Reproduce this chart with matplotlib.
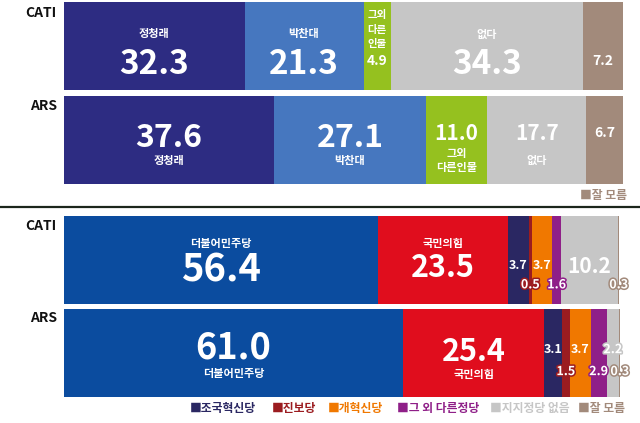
import matplotlib.pyplot as plt
import matplotlib.patheffects as pe
import numpy as np

plt.rcParams['font.family'] = ['Noto Sans CJK KR', 'DejaVu Sans']

rows = ["CATI", "ARS"]

# top chart: candidates
cand_names = ["정청래", "박찬대", "그외 다른인물", "없다", "잘 모름"]
cand_cati = [32.3, 21.3, 4.9, 34.3, 7.2]
cand_ars = [37.6, 27.1, 11.0, 17.7, 6.7]
cand_colors = ["#2d2c82", "#4677bf", "#95c11f", "#c6c6c6", "#a28a7b"]

# bottom chart: parties
party_names = ["더불어민주당", "국민의힘", "조국혁신당", "진보당", "개혁신당",
               "그 외 다른정당", "지지정당 없음", "잘 모름"]
party_cati = [56.4, 23.5, 3.7, 0.5, 3.7, 1.6, 10.2, 0.3]
party_ars = [61.0, 25.4, 3.1, 1.5, 3.7, 2.9, 2.2, 0.3]
party_colors = ["#0b4c9f", "#e00d1d", "#2a2762", "#9b1c20", "#f07800",
                "#8f1f88", "#c6c6c6", "#a28a7b"]

W, H = 640, 423
fig = plt.figure(figsize=(W / 100, H / 100), dpi=100)


def make_ax(top_px, bottom_px, left_px=64, right_px=622):
    ax = fig.add_axes([left_px / W, 1 - bottom_px / H,
                       (right_px - left_px) / W, (bottom_px - top_px) / H])
    ax.set_xlim(0, 100)
    ax.axis('off')
    return ax


def draw_bars(ax, values_by_row, colors, pitch_px, bar_px):
    h = bar_px / pitch_px
    ax.set_ylim(1 + h / 2, -h / 2)
    lefts = []
    for r, vals in enumerate(values_by_row):
        left = np.concatenate([[0], np.cumsum(vals)[:-1]])
        ax.barh(r, vals, left=left, height=h, color=colors, edgecolor='none')
        lefts.append(left)
    return lefts


def label(ax, x, r, s, dy, size, weight='bold', color='white', stroke=None):
    # dy: pixels below bar centre (positive = down), baseline aligned
    t = ax.annotate(s, (x, r), xytext=(0, -dy * 0.72), textcoords='offset points',
                    ha='center', va='baseline', fontsize=size,
                    fontweight=weight, color=color, annotation_clip=False)
    if stroke:
        t.set_path_effects([pe.withStroke(linewidth=2.2, foreground=stroke)])
    return t


# ---------- top chart ----------
ax1 = make_ax(2, 184, right_px=623)
lefts = draw_bars(ax1, [cand_cati, cand_ars], cand_colors, 94, 88)
c_cati = lefts[0] + np.array(cand_cati) / 2
c_ars = lefts[1] + np.array(cand_ars) / 2

# CATI row (centre y=46)
label(ax1, c_cati[0], 0, cand_names[0], -9, 8)
label(ax1, c_cati[0], 0, f"{cand_cati[0]:.1f}", 28, 24)
label(ax1, c_cati[1], 0, cand_names[1], -9, 8)
label(ax1, c_cati[1], 0, f"{cand_cati[1]:.1f}", 28, 24)
for i, s in enumerate(["그외", "다른", "인물"]):
    label(ax1, c_cati[2], 0, s, -28 + i * 14.5, 7.5)
label(ax1, c_cati[2], 0, f"{cand_cati[2]:.1f}", 19, 10)
label(ax1, c_cati[3], 0, cand_names[3], -8, 8)
label(ax1, c_cati[3], 0, f"{cand_cati[3]:.1f}", 28, 24)
label(ax1, c_cati[4], 0, f"{cand_cati[4]:.1f}", 19, 10)

# ARS row (centre y=140)
label(ax1, c_ars[0], 1, f"{cand_ars[0]:.1f}", 7, 23)
label(ax1, c_ars[0], 1, cand_names[0], 24, 8)
label(ax1, c_ars[1], 1, f"{cand_ars[1]:.1f}", 7, 23)
label(ax1, c_ars[1], 1, cand_names[1], 24, 8)
label(ax1, c_ars[2], 1, f"{cand_ars[2]:.1f}", 0, 15)
label(ax1, c_ars[2], 1, "그외", 17, 8)
label(ax1, c_ars[2], 1, "다른인물", 31, 8)
label(ax1, c_ars[3], 1, f"{cand_ars[3]:.1f}", 0, 15)
label(ax1, c_ars[3], 1, cand_names[3], 24, 8)
label(ax1, c_ars[4], 1, f"{cand_ars[4]:.1f}", -3, 10)

fig.text(580 / W, 1 - 195 / H, "■" + cand_names[4], color=cand_colors[4],
         fontsize=8.5, fontweight='bold', ha='left', va='center')

# ---------- separator ----------
fig.add_artist(plt.Line2D([0, 1], [1 - 207 / H, 1 - 207 / H],
                          color="#1c261c", lw=1.6))

# ---------- bottom chart ----------
ax2 = make_ax(216, 397, right_px=620)
lefts = draw_bars(ax2, [party_cati, party_ars], party_colors, 93, 87.5)
p_cati = lefts[0] + np.array(party_cati) / 2
p_ars = lefts[1] + np.array(party_ars) / 2

# CATI row (centre y=259.5)
label(ax2, p_cati[0], 0, party_names[0], -12.5, 8)
label(ax2, p_cati[0], 0, f"{party_cati[0]:.1f}", 22, 27.5)
label(ax2, p_cati[1], 0, party_names[1], -12.5, 8)
label(ax2, p_cati[1], 0, f"{party_cati[1]:.1f}", 17, 22)
small_dy_cati = {2: 9.5, 3: 28.5, 4: 9.5, 5: 28.5, 7: 28.5}
for i, dy in small_dy_cati.items():
    stroke = party_colors[i] if i in (3, 5, 7) else None
    label(ax2, p_cati[i], 0, f"{party_cati[i]:.1f}", dy, 9, stroke=stroke)
label(ax2, p_cati[6], 0, f"{party_cati[6]:.1f}", 13.5, 15)

# ARS row (centre y=353)
label(ax2, p_ars[0], 1, f"{party_ars[0]:.1f}", 5, 26)
label(ax2, p_ars[0], 1, party_names[0], 24, 8)
label(ax2, p_ars[1], 1, f"{party_ars[1]:.1f}", 8, 22)
label(ax2, p_ars[1], 1, party_names[1], 25, 8)
small_dy_ars = {2: 0, 3: 22, 4: 0, 5: 22, 6: 0, 7: 22}
for i, dy in small_dy_ars.items():
    stroke = party_colors[i] if i in (3, 5, 6, 7) else None
    label(ax2, p_ars[i], 1, f"{party_ars[i]:.1f}", dy, 9, stroke=stroke)

# row labels
row_label_y = [13, 106, 226, 318]
for name, y in zip(rows * 2, row_label_y):
    fig.text(57 / W, 1 - y / H, name, ha='right', va='center',
             fontsize=10, fontweight='bold', color='#111111')

# legend for parties
legend_x = [190, 272, 328, 397, 490, 578]
for name, col, x in zip(party_names[2:], party_colors[2:], legend_x):
    fig.text(x / W, 1 - 408 / H, "■" + name, color=col, fontsize=8.5,
             fontweight='bold', ha='left', va='center')

fig.savefig("out.png", dpi=100, facecolor='white')
